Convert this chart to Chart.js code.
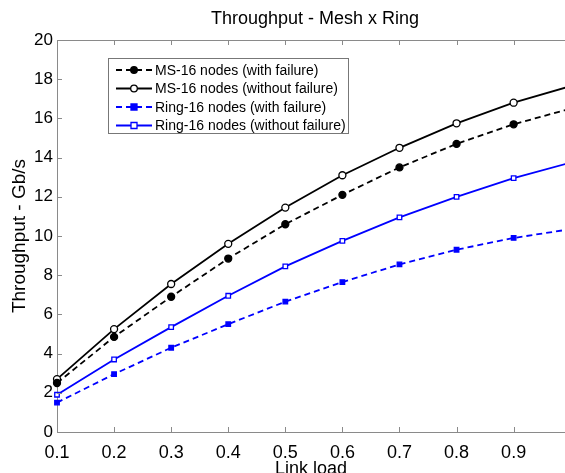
<!DOCTYPE html>
<html>
<head>
<meta charset="utf-8">
<script src="https://cdn.jsdelivr.net/npm/chart.js@4"></script>
<style>
  body { margin: 0; background: #fff; }
  canvas { display: block; }
</style>
</head>
<body>
<canvas id="myChart" width="565" height="473"></canvas>
<script>
// link load values on the x axis
const loads = [0.1, 0.2, 0.3, 0.4, 0.5, 0.6, 0.7, 0.8, 0.9, 1.0];

// throughput (Gb/s)
const msWithFailure = [2.5, 4.85, 6.9, 8.85, 10.6, 12.1, 13.5, 14.7, 15.7, 16.5];
const msWithoutFailure = [2.7, 5.25, 7.55, 9.6, 11.45, 13.1, 14.5, 15.75, 16.8, 17.65];
const ringWithFailure = [1.5, 2.95, 4.3, 5.5, 6.65, 7.65, 8.55, 9.3, 9.9, 10.35];
const ringWithoutFailure = [1.9, 3.7, 5.35, 6.95, 8.45, 9.75, 10.95, 12.0, 12.95, 13.75];

const xTicks = [0.1, 0.2, 0.3, 0.4, 0.5, 0.6, 0.7, 0.8, 0.9];
const yTicks = [0, 2, 4, 6, 8, 10, 12, 14, 16, 18, 20];

const labels = [
  'MS-16 nodes (with failure)',
  'MS-16 nodes (without failure)',
  'Ring-16 nodes (with failure)',
  'Ring-16 nodes (without failure)'
];

const axisGrey = '#8a8a8a';
const fontName = '"Liberation Sans", Arial, sans-serif';

function pairs(ys) {
  return ys.map((y, i) => ({ x: loads[i], y: y }));
}

function series(label, ys, color, dashed, style, filled) {
  return {
    label: label,
    data: pairs(ys),
    borderColor: color,
    backgroundColor: filled ? color : '#ffffff',
    borderWidth: 1.8,
    borderDash: dashed ? [6, 4] : [],
    pointStyle: style,
    pointRadius: style === 'rect' ? 3.2 : 3.5,
    pointBorderWidth: 1.3,
    pointBackgroundColor: filled ? color : '#ffffff',
    pointBorderColor: color,
    tension: 0,
    clip: { left: 10, top: 10, bottom: 10, right: 0 }
  };
}

// title, inward ticks, top frame line and the legend box
const decorations = {
  id: 'decorations',
  afterDraw(chart) {
    const ctx = chart.ctx;
    const area = chart.chartArea;
    const xs = chart.scales.x;
    const ys = chart.scales.y;
    ctx.save();

    ctx.fillStyle = '#000';
    ctx.font = '18px ' + fontName;
    ctx.textAlign = 'center';
    ctx.textBaseline = 'middle';
    ctx.fillText('Throughput - Mesh x Ring', 315, 19);

    ctx.strokeStyle = axisGrey;
    ctx.lineWidth = 1;
    ctx.beginPath();
    ctx.moveTo(area.left, area.top + 0.5);
    ctx.lineTo(area.right, area.top + 0.5);
    xTicks.forEach(v => {
      const px = Math.round(xs.getPixelForValue(v)) + 0.5;
      ctx.moveTo(px, area.bottom);
      ctx.lineTo(px, area.bottom - 5);
      ctx.moveTo(px, area.top);
      ctx.lineTo(px, area.top + 5);
    });
    yTicks.forEach(v => {
      const py = Math.round(ys.getPixelForValue(v)) + 0.5;
      ctx.moveTo(area.left, py);
      ctx.lineTo(area.left + 5, py);
    });
    ctx.stroke();

    // legend
    const bx = 108, by = 58, bw = 240, bh = 75;
    ctx.fillStyle = '#fff';
    ctx.fillRect(bx, by, bw, bh);
    ctx.strokeStyle = '#777';
    ctx.strokeRect(bx + 0.5, by + 0.5, bw, bh);
    ctx.font = '14px ' + fontName;
    ctx.textAlign = 'left';
    chart.data.datasets.forEach((ds, i) => {
      const y = by + 12 + i * 18.5;
      ctx.strokeStyle = ds.borderColor;
      ctx.lineWidth = ds.borderWidth;
      ctx.setLineDash(ds.borderDash);
      ctx.beginPath();
      ctx.moveTo(116, y);
      ctx.lineTo(152, y);
      ctx.stroke();
      ctx.setLineDash([]);
      ctx.lineWidth = ds.pointBorderWidth;
      ctx.fillStyle = ds.pointBackgroundColor;
      ctx.beginPath();
      if (ds.pointStyle === 'rect') {
        ctx.rect(134 - 3, y - 3, 6, 6);
      } else {
        ctx.arc(134, y, 3.3, 0, Math.PI * 2);
      }
      ctx.fill();
      ctx.stroke();
      ctx.fillStyle = '#000';
      ctx.fillText(ds.label, 155, y + 1);
    });
    ctx.restore();
  }
};

const ctx = document.getElementById('myChart');

new Chart(ctx, {
  type: 'line',
  data: {
    datasets: [
      series(labels[0], msWithFailure, '#000000', true, 'circle', true),
      series(labels[1], msWithoutFailure, '#000000', false, 'circle', false),
      series(labels[2], ringWithFailure, '#0000ff', true, 'rect', true),
      series(labels[3], ringWithoutFailure, '#0000ff', false, 'rect', false)
    ]
  },
  options: {
    responsive: false,
    animation: false,
    devicePixelRatio: 1,
    layout: { autoPadding: false, padding: { top: 40, left: 0, right: 0, bottom: 0 } },
    plugins: {
      legend: { display: false },
      title: { display: false },
      tooltip: { enabled: false }
    },
    scales: {
      x: {
        type: 'linear',
        min: 0.1,
        max: 0.99,
        afterBuildTicks: axis => { axis.ticks = xTicks.map(v => ({ value: v })); },
        afterFit: axis => { axis.height = 41; },
        grid: { display: true, drawOnChartArea: false, drawTicks: false },
        border: { display: true, color: axisGrey, width: 1 },
        ticks: {
          color: '#000',
          padding: 10,
          maxRotation: 0,
          autoSkip: false,
          font: { family: fontName, size: 18 },
          callback: v => v.toFixed(1)
        },
        title: {
          display: true,
          text: 'Link load',
          color: '#000',
          font: { family: fontName, size: 18 },
          padding: { top: 0, bottom: -7 }
        }
      },
      y: {
        min: 0,
        max: 20,
        afterBuildTicks: axis => { axis.ticks = yTicks.map(v => ({ value: v })); },
        afterFit: axis => { axis.width = 57; },
        grid: { display: true, drawOnChartArea: false, drawTicks: false },
        border: { display: true, color: axisGrey, width: 1 },
        ticks: {
          color: '#000',
          padding: 4,
          font: { family: fontName, size: 17 }
        },
        title: {
          display: true,
          text: 'Throughput - Gb/s',
          color: '#000',
          font: { family: fontName, size: 19 },
          padding: { top: 8, bottom: 0 }
        }
      }
    }
  },
  plugins: [decorations]
});
</script>
</body>
</html>
